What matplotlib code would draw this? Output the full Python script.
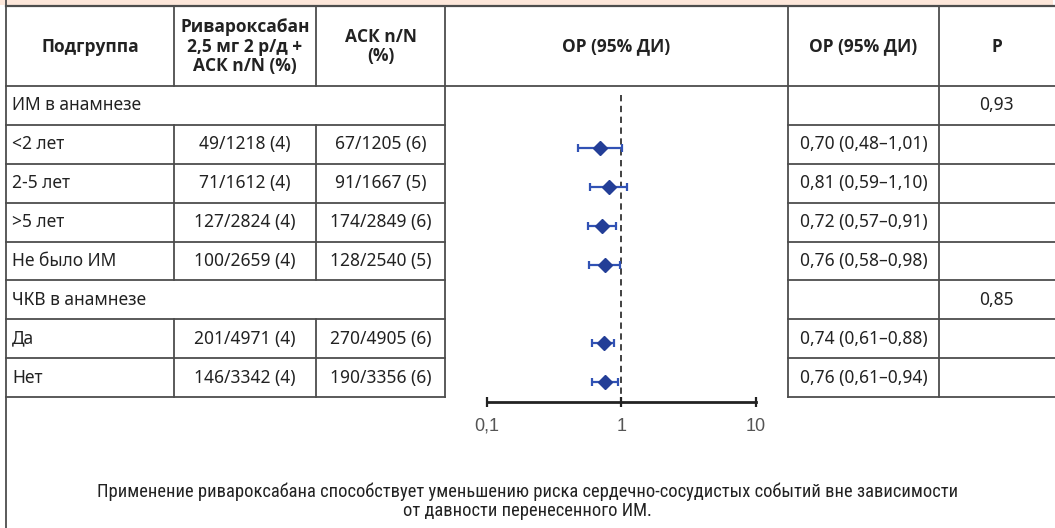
import numpy as np
import matplotlib
matplotlib.use("Agg")
import matplotlib.pyplot as plt
from matplotlib import font_manager as fm

plt.rcParams['font.family'] = ['Noto Sans', 'DejaVu Sans']

# ---- data -------------------------------------------------------------
row_labels = ["ИМ в анамнезе", "<2 лет", "2-5 лет", ">5 лет", "Не было ИМ",
              "ЧКВ в анамнезе", "Да", "Нет"]
is_group = [True, False, False, False, False, True, False, False]
riva_counts = ["", "49/1218 (4)", "71/1612 (4)", "127/2824 (4)", "100/2659 (4)",
               "", "201/4971 (4)", "146/3342 (4)"]
ask_counts = ["", "67/1205 (6)", "91/1667 (5)", "174/2849 (6)", "128/2540 (5)",
              "", "270/4905 (6)", "190/3356 (6)"]
hr = [np.nan, 0.70, 0.81, 0.72, 0.76, np.nan, 0.74, 0.76]
hr_lo = [np.nan, 0.48, 0.59, 0.57, 0.58, np.nan, 0.61, 0.61]
hr_hi = [np.nan, 1.01, 1.10, 0.91, 0.98, np.nan, 0.88, 0.94]
p_values = ["0,93", "", "", "", "", "0,85", "", ""]
headers = ["Подгруппа", "Ривароксабан\n2,5 мг 2 р/д +\nАСК n/N (%)", "АСК n/N\n(%)",
           "ОР (95% ДИ)", "ОР (95% ДИ)", "P"]
axis_ticks = [0.1, 1, 10]
axis_tick_labels = ["0,1", "1", "10"]
caption = ("Применение ривароксабана способствует уменьшению риска сердечно-сосудистых событий вне зависимости\n"
           "от давности перенесенного ИМ.")


def fmt(v):
    return f"{v:.2f}".replace(".", ",")


def _num(v, table, default):
    return v if isinstance(v, int) else table.get(v, default)


def find_face(families, weights, condensed=False):
    """Return FontProperties for the first installed upright face matching the request."""
    narrow_tags = ('ondensed', 'arrow')
    for fam in families:
        for want in weights:
            for f in fm.fontManager.ttflist:
                if f.name != fam or f.style != 'normal' or 'talic' in f.fname:
                    continue
                if _num(f.weight, fm.weight_dict, 400) != want:
                    continue
                base = f.fname.rsplit('/', 1)[-1]
                is_narrow = (any(t in base for t in narrow_tags)
                             or _num(f.stretch, fm.stretch_dict, 500) < 500)
                if is_narrow != condensed:
                    continue
                if not condensed and ('Extra' in base or 'Semi' in base and want == 700):
                    continue
                return fm.FontProperties(fname=f.fname)
    return None


bold_fp = (find_face(['Noto Sans', 'Open Sans', 'Roboto', 'Lato'], [700, 600])
           or fm.FontProperties(family='DejaVu Sans', weight='bold'))
cond_fp = (find_face(['Noto Sans', 'Noto Sans Condensed', 'Roboto Condensed',
                      'Liberation Sans Narrow', 'Open Sans'], [400], condensed=True)
           or fm.FontProperties(family='Roboto'))

# ---- layout (pixels) --------------------------------------------------
W, H = 1055, 528
col_x = [6, 174, 316, 445, 788, 939, 1055]
top_y = 5.5
head_bot = 86
row_h = 38.875
n_rows = len(row_labels)
row_lines = [head_bot + row_h * (i + 1) for i in range(n_rows)]
line_col = "#4d4d4d"
text_col = "#222222"
lw = 1.3

fig = plt.figure(figsize=(W / 100, H / 100), dpi=100)
ax = fig.add_axes([0, 0, 1, 1])
ax.set_xlim(0, W)
ax.set_ylim(H, 0)
ax.axis("off")

# peach band at the top
ax.add_patch(plt.Rectangle((0, 0), W - 2, top_y - 0.5, color="#fde7da", lw=0))

# outer lines
ax.plot([col_x[0], W], [top_y, top_y], color=line_col, lw=1.6)
ax.plot([col_x[0], W], [head_bot, head_bot], color=line_col, lw=lw)
ax.plot([col_x[0], col_x[0]], [0, H], color=line_col, lw=lw)

# vertical lines
for k in (1, 2):
    ax.plot([col_x[k], col_x[k]], [top_y, head_bot], color=line_col, lw=lw)
for k in (3, 4, 5):
    ax.plot([col_x[k], col_x[k]], [top_y, row_lines[-1]], color=line_col, lw=lw)
for i in range(n_rows):
    if not is_group[i]:
        y0 = head_bot + row_h * i
        for k in (1, 2):
            ax.plot([col_x[k], col_x[k]], [y0, y0 + row_h], color=line_col, lw=lw)

# horizontal row lines (not across the forest column)
for y in row_lines:
    ax.plot([col_x[0], col_x[3]], [y, y], color=line_col, lw=lw)
    ax.plot([col_x[4], W], [y, y], color=line_col, lw=lw)

# header text
hdr_y = 46.5
for k, h in enumerate(headers):
    cx = (col_x[k] + col_x[k + 1]) / 2
    t = ax.text(cx, hdr_y, h, ha="center", va="center", color=text_col,
                linespacing=1.13, fontproperties=bold_fp)
    t.set_fontsize(12.5)

# body text
for i in range(n_rows):
    cy = head_bot + row_h * (i + 0.5)
    ax.text(col_x[0] + 6, cy, row_labels[i], ha="left", va="center",
            fontsize=12.5, color=text_col)
    if riva_counts[i]:
        ax.text((col_x[1] + col_x[2]) / 2, cy, riva_counts[i], ha="center",
                va="center", fontsize=12.5, color=text_col)
    if ask_counts[i]:
        ax.text((col_x[2] + col_x[3]) / 2, cy, ask_counts[i], ha="center",
                va="center", fontsize=12.5, color=text_col)
    if not np.isnan(hr[i]):
        s = f"{fmt(hr[i])} ({fmt(hr_lo[i])}–{fmt(hr_hi[i])})"
        ax.text((col_x[4] + col_x[5]) / 2, cy, s, ha="center", va="center",
                fontsize=12.5, color=text_col)
    if p_values[i]:
        ax.text((col_x[5] + col_x[6]) / 2 - 1, cy, p_values[i], ha="center",
                va="center", fontsize=12.5, color=text_col)

# caption
ct = ax.text(W / 2, 501, caption, ha="center", va="center", color=text_col,
             linespacing=1.05, fontproperties=cond_fp)
ct.set_fontsize(13.3)

# ---- forest plot ------------------------------------------------------
fx0, fx1 = 486.7, 756.0
fy_top, fy_bot = head_bot, 402
mk_off = 4
first_center = head_bot + row_h / 2 + mk_off
y_top_data = (fy_top - first_center) / row_h
y_bot_data = (fy_bot - first_center) / row_h

fax = fig.add_axes([fx0 / W, 1 - fy_bot / H, (fx1 - fx0) / W, (fy_bot - fy_top) / H])
fax.set_xscale("log")
fax.set_xlim(0.1, 10)
fax.set_ylim(y_bot_data, y_top_data)
fax.patch.set_alpha(0)
for s in ("top", "right", "left"):
    fax.spines[s].set_visible(False)
fax.spines["bottom"].set_linewidth(2.0)
fax.spines["bottom"].set_color("#222222")
fax.set_yticks([])
fax.set_xticks(axis_ticks)
fax.set_xticklabels(axis_tick_labels, family=['Liberation Sans', 'DejaVu Sans'],
                    fontsize=13, color="#555555")
fax.xaxis.set_minor_locator(matplotlib.ticker.NullLocator())
fax.tick_params(axis="x", direction="inout", length=7, width=1.6, colors="#222222",
                labelcolor="#555555", pad=8)

dash_top = (95 - first_center) / row_h
fax.plot([1, 1], [dash_top, y_bot_data], color="#333333", lw=1.3,
         linestyle=(0, (3.5, 2.5)), zorder=1)

ypos = np.arange(n_rows)
hr_a = np.array(hr)
lo_a = np.array(hr_lo)
hi_a = np.array(hr_hi)
ok = ~np.isnan(hr_a)
fax.errorbar(hr_a[ok], ypos[ok], xerr=[hr_a[ok] - lo_a[ok], hi_a[ok] - hr_a[ok]],
             fmt="none", ecolor="#3152b5", elinewidth=1.6, capsize=2.6,
             capthick=1.6, zorder=2)
fax.plot(hr_a[ok], ypos[ok], linestyle="none", marker="D", markersize=7.4,
         color="#233e97", zorder=3)

fig.savefig("out.png", dpi=100)
